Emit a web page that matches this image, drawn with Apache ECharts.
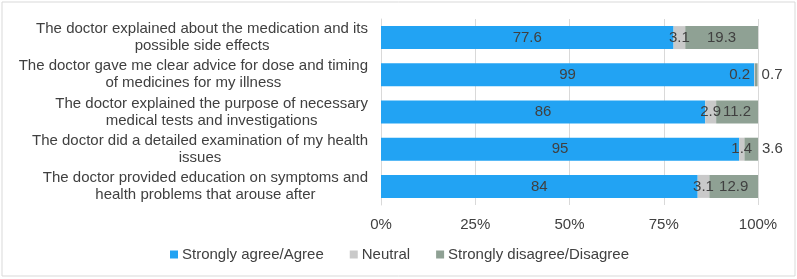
<!DOCTYPE html>
<html>
<head>
<meta charset="utf-8">
<script src="https://cdn.jsdelivr.net/npm/echarts@6/dist/echarts.min.js"></script>
<style>
  html, body { margin: 0; padding: 0; background: #fff; }
  #chart { width: 797px; height: 279px; }
</style>
</head>
<body>
<div id="chart"></div>
<script>
var categories = [
  'The doctor explained about the medication and its\npossible side effects',
  'The doctor gave me clear advice for dose and timing\nof medicines for my illness',
  'The doctor explained the purpose of necessary\nmedical tests and investigations',
  'The doctor did a detailed examination of my health\nissues',
  'The doctor provided education on symptoms and\nhealth problems that arouse after'
]
var agree = [77.6, 99, 86, 95, 84]
var neutral = [3.1, 0.2, 2.9, 1.4, 3.1]
var disagree = [19.3, 0.7, 11.2, 3.6, 12.9]
var seriesNames = ['Strongly agree/Agree', 'Neutral', 'Strongly disagree/Disagree']
var colors = ['#22a3f3', '#c9c9c9', '#8fa194']

var textColor = '#404040'
var font = '"Liberation Sans", Arial, sans-serif'

var myChart = echarts.init(document.getElementById('chart'))

function labelFor(idx, v) {
  // tiny segments: Excel pushed those labels out of the way
  if (idx === 2 && v < 5) return { position: 'right', distance: 4 }
  if (idx === 1 && v < 1) return { position: 'inside', offset: [-15, 0] }
  return {}
}

function makeSeries(idx, values) {
  return {
    name: seriesNames[idx],
    type: 'bar',
    stack: 'total',
    barWidth: 23,
    itemStyle: { color: colors[idx] },
    label: {
      show: true,
      position: 'inside',
      color: textColor,
      fontSize: 15,
      fontFamily: font
    },
    data: values.map(function(v) {
      return { value: v, label: labelFor(idx, v) }
    })
  }
}

var option = {
  animation: false,
  backgroundColor: '#fff',
  textStyle: { fontFamily: font },
  graphic: [{
    type: 'rect',
    shape: { x: 2, y: 2, width: 793, height: 274 },
    style: { fill: 'none', stroke: '#d9d9d9', lineWidth: 1 },
    silent: true
  }],
  grid: { left: 381, right: 39, top: 19, bottom: 74 },
  legend: {
    left: 170,
    top: 247,
    padding: 0,
    icon: 'rect',
    itemWidth: 8,
    itemHeight: 8,
    itemGap: 26,
    textStyle: { color: textColor, fontSize: 15, fontFamily: font, padding: [0, 0, 0, -1] },
    data: seriesNames
  },
  xAxis: {
    type: 'value',
    min: 0,
    max: 100,
    interval: 25,
    axisLine: { show: false },
    axisTick: { show: false },
    splitLine: { lineStyle: { color: '#d9d9d9', width: 1 } },
    axisLabel: {
      formatter: '{value}%',
      color: textColor,
      fontSize: 15,
      fontFamily: font,
      margin: 12
    }
  },
  yAxis: {
    type: 'category',
    inverse: true,
    data: categories,
    axisLine: { show: true, lineStyle: { color: '#d9d9d9', width: 1 } },
    axisTick: { show: false },
    axisLabel: {
      margin: 13,
      formatter: function(v) { return '{c|' + v + '}' },
      rich: {
        c: {
          align: 'center',
          color: textColor,
          fontSize: 15,
          fontFamily: font,
          lineHeight: 17
        }
      }
    }
  },
  series: [
    makeSeries(0, agree),
    makeSeries(1, neutral),
    makeSeries(2, disagree)
  ]
}
myChart.setOption(option)
</script>
</body>
</html>
